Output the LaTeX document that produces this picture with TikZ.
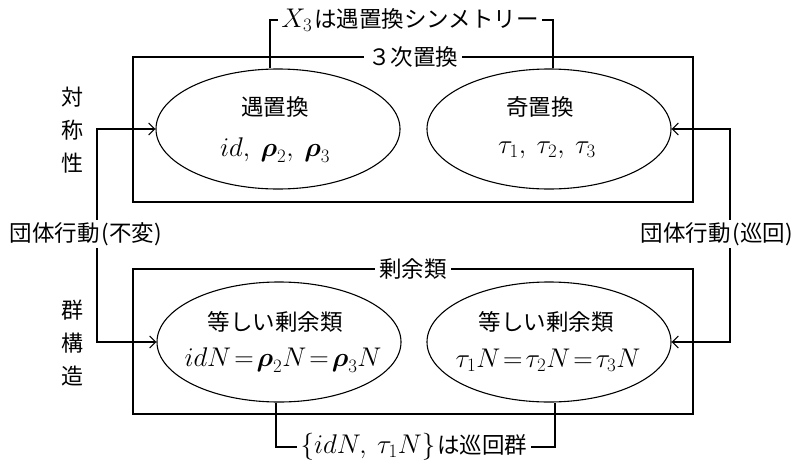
\RequirePackage{fix-cm}
\documentclass[tikz,border=0pt]{standalone}
\usepackage{amsmath}
\usepackage{fontspec}
\setmainfont{Noto Sans CJK JP}
\usetikzlibrary{arrows.meta,shapes.geometric}
\newcommand{\mfs}{\fontsize{27}{30}\selectfont}
\tikzset{
  jp/.style={font=\fontsize{22.5}{26}\selectfont, inner sep=0pt},
  mth/.style={font=\mfs, inner sep=0pt},
  frame/.style={draw, line width=1.1pt, minimum width=560pt, minimum height=145pt, inner sep=0pt},
  oval/.style={draw, ellipse, line width=1.1pt, minimum width=244pt, minimum height=120pt, inner sep=0pt},
  boxtitle/.style={fill=white, inner xsep=4pt, inner ysep=2pt, font=\fontsize{22.5}{26}\selectfont},
  lbl/.style={fill=white, inner xsep=4pt, inner ysep=2pt, font=\fontsize{22.5}{26}\selectfont},
  sidelbl/.style={align=center, inner sep=0pt, font=\fontsize{22}{33}\selectfont},
  arr/.style={-{Straight Barb[length=6pt,width=12pt]}, line width=1.1pt},
  conn/.style={line width=1.1pt}
}
\begin{document}
\begin{tikzpicture}[x=1pt,y=-1pt]
\useasboundingbox (0,0) rectangle (798,466);
% frames
\node[frame] (box1) at (413,129.5) {};
\node[frame] (box2) at (413,341.5) {};
\node[boxtitle] (t1) at (413,57) {３次置換};
\node[boxtitle] (t2) at (413,269) {剰余類};
% ellipses
\node[oval] (e1) at (278,129) {};
\node[oval] (e2) at (549,129) {};
\node[oval] (e3) at (279,342) {};
\node[oval] (e4) at (549,342) {};
% ellipse texts
\node[jp] (e1a) at (275,107) {遇置換};
\node[mth] (e1b) at (275,150) {$id,\ \boldsymbol{\rho}_2,\ \boldsymbol{\rho}_3$};
\node[jp] (e2a) at (540,107) {奇置換};
\node[mth] (e2b) at (547,150) {$\tau_1,\ \tau_2,\ \tau_3$};
\node[jp] (e3a) at (275,322) {等しい剰余類};
\node[mth] (e3b) at (283,360) {$idN\!=\!\boldsymbol{\rho}_2N\!=\!\boldsymbol{\rho}_3N$};
\node[jp] (e4a) at (546,322) {等しい剰余類};
\node[mth] (e4b) at (548,360) {$\tau_1N\!=\!\tau_2N\!=\!\tau_3N$};
% top and bottom labels
\node[lbl, inner xsep=3pt] (lt) at (410,20) {{\mfs$X_3$}\kern2pt は遇置換シンメトリー};
\draw[conn] ([xshift=-8pt]e1.north) |- (lt.west);
\draw[conn] ([xshift=4pt]e2.north) |- (lt.east);
\node[lbl, inner xsep=3pt] (lb) at (414,447) {{\mfs$\{idN,\ \tau_1N\}$}\kern2pt は巡回群};
\draw[conn] ([xshift=-3pt]e3.south) |- (lb.west);
\draw[conn] ([xshift=6pt]e4.south) |- (lb.east);
% side labels
\node[sidelbl] (s1) at (72,130) {対\\称\\性};
\node[sidelbl] (s2) at (72,343) {群\\構\\造};
% group action arrows
\coordinate (vl) at (97,0);
\coordinate (vr) at (730,0);
\draw[arr] (vl |- 0,233) |- (e1.west);
\draw[arr] (vl |- 0,233) |- (e3.west);
\draw[arr] (vr |- 0,233) |- (e2.east);
\draw[arr] (vr |- 0,233) |- (e4.east);
\node[lbl, inner xsep=0pt] (aL) at (86,234) {団体行動\kern2pt(不変)};
\node[lbl, inner xsep=0pt] (aR) at (717,234) {団体行動\kern2pt(巡回)};
\end{tikzpicture}
\end{document}
